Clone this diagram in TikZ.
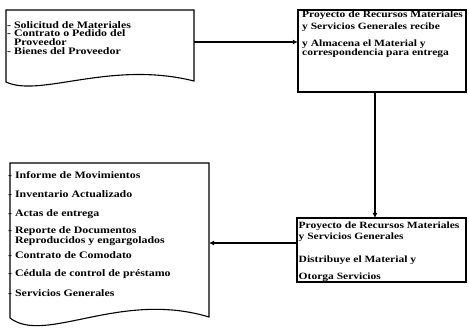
\documentclass[tikz,border=0pt]{standalone}
\usepackage{fontspec}
\setmainfont{Liberation Serif}[FakeStretch=1.2]
\usetikzlibrary{arrows.meta}

\tikzset{
  outline/.style={draw=black, line width=1.1pt, line join=miter},
  flow/.style={draw=black, line width=1.1pt, -{Latex[length=5pt,width=5pt]}},
  boxtext/.style={anchor=west, inner sep=0pt, align=left,
    font=\fontsize{9.6}{11.5}\selectfont\bfseries},
  doctext/.style={anchor=west, inner sep=0pt, align=left,
    font=\fontsize{9.9}{8.9}\selectfont\bfseries},
}

\begin{document}
\begin{tikzpicture}[x=1pt, y=-1pt]
  \useasboundingbox (0,0) rectangle (469,328);

  % input document: materials request and supplier goods
  \draw[outline] (6,82) -- (6,10) -- (194,10) -- (194,81)
    .. controls (110,60) and (40,98) .. (6,82) -- cycle;
  \coordinate (docA-out) at (194,42);
  \node[doctext] (docA-text) at (7,38)
    {- Solicitud de Materiales\\
     - Contrato o Pedido del\\
     \phantom{- }Proveedor\\
     - Bienes del Proveedor};

  % receiving and storage
  \draw[outline] (298,10) rectangle (466,92);
  \node (recv) at (382,51) [minimum width=168pt, minimum height=82pt, inner sep=0pt] {};
  \node[boxtext] (recv-a) at (302,21)
    {Proyecto de Recursos Materiales\\y Servicios Generales recibe};
  \node[boxtext, font=\fontsize{9.6}{9}\selectfont\bfseries] (recv-b) at (302,49)
    {y Almacena el Material y\\correspondencia para entrega};

  % distribution
  \draw[outline] (297,218) rectangle (466,282);
  \node (dist) at (381.5,250) [minimum width=169pt, minimum height=64pt, inner sep=0pt] {};
  \node[boxtext, font=\fontsize{9.6}{11}\selectfont\bfseries] (dist-a) at (298.5,231.5)
    {Proyecto de Recursos Materiales\\y Servicios Generales};
  \node[boxtext] (dist-b) at (298.5,260) {Distribuye el Material y};
  \node[boxtext] (dist-c) at (298.5,277) {Otorga Servicios};

  % output document: records and reports
  \draw[outline] (10,318) -- (10,163) -- (209,163) -- (209,317)
    .. controls (120,290) and (45,345) .. (10,318) -- cycle;
  \coordinate (docB-in) at (209,243);
  \node[doctext] (out1) at (8,175) {- Informe de Movimientos};
  \node[doctext] (out2) at (8,194) {- Inventario Actualizado};
  \node[doctext] (out3) at (8,214) {- Actas de entrega};
  \node[doctext] (out4) at (8,236)
    {- Reporte de Documentos\\\phantom{- }Reproducidos y engargolados};
  \node[doctext] (out5) at (8,255) {- Contrato de Comodato};
  \node[doctext] (out6) at (8,274) {- C\'edula de control de pr\'estamo};
  \node[doctext] (out7) at (8,293) {- Servicios Generales};

  % connectors
  \draw[flow] (docA-out) -- (recv.west |- docA-out);
  \draw[flow] (recv.south -| 375,0) -- (375,218);
  \draw[flow] (dist.west |- docB-in) -- (docB-in);
\end{tikzpicture}
\end{document}
